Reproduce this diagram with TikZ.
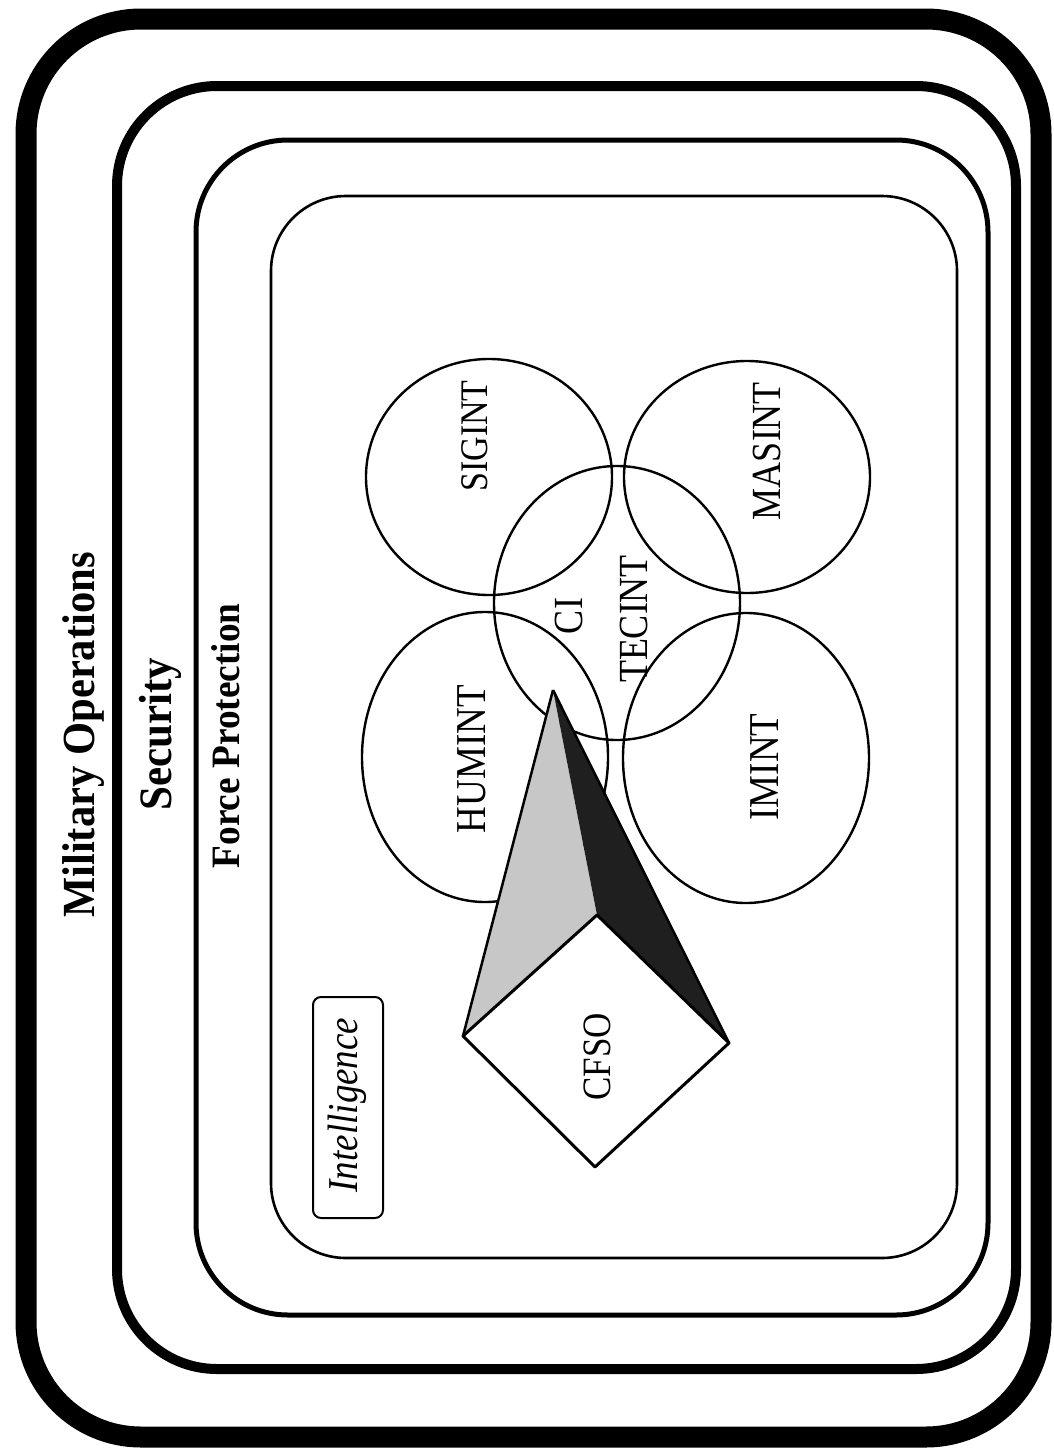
\documentclass[tikz,border=0pt]{standalone}
\usepackage{fontspec}
\setmainfont{Liberation Serif}
\usepackage{graphicx}
\usetikzlibrary{shapes.geometric}
\newcommand{\vst}[1]{\scalebox{1}[1.15]{#1}}
\newcommand{\vsf}[1]{\scalebox{1}[1.08]{#1}}
\begin{document}
\begin{tikzpicture}[x=1pt,y=-1pt,
  lbl/.style={rotate=90, inner sep=0pt, anchor=base},
  circ/.style={draw, ellipse, line width=2.4pt, inner sep=0pt, minimum width=246pt},
  reg/.style={font=\fontsize{36}{36}\selectfont}]
\useasboundingbox (0,0) rectangle (1053,1448);
\fill[white] (0,0) rectangle (1053,1448);

% nested frames
\draw[line width=21pt, rounded corners=115pt] (26,19) rectangle (1041,1437);
\draw[line width=10pt, rounded corners=100pt] (117,86) rectangle (1016,1369);
\draw[line width=5pt, rounded corners=92pt] (196,140) rectangle (988,1315);
\draw[line width=2.6pt, rounded corners=75pt] (271,196) rectangle (957,1258);

% frame labels
\node[lbl, font=\fontsize{42.6}{43}\selectfont\bfseries] (milops) at (94,735) {\vsf{Military Operations}};
\node[lbl, font=\fontsize{43}{43}\selectfont\bfseries] (sec) at (171,734) {\vsf{Security}};
\node[lbl, font=\fontsize{37.3}{37}\selectfont\bfseries] (fp) at (239,736) {\vsf{Force Protection}};

% circles
\node[circ, minimum height=236pt] (csig) at (489,477) {};
\node[circ, minimum height=232pt] (cmas) at (747,477) {};
\node[circ, minimum height=290pt] (chum) at (485,757) {};
\node[circ, minimum height=290pt] (cim) at (746,758) {};
\node[circ, minimum height=274pt] (cci) at (617,603) {};

\node[lbl, font=\fontsize{34}{34}\selectfont] (tsig) at (487,436) {\vst{SIGINT}};
\node[lbl, reg] (tmas) at (780,451) {\vst{MASINT}};
\node[lbl, font=\fontsize{37}{37}\selectfont] (thum) at (485,759) {\vst{HUMINT}};
\node[lbl, font=\fontsize{37}{37}\selectfont] (tim) at (778,767) {\vst{IMINT}};
\node[lbl, reg] (tci) at (582,616) {\vst{CI}};
\node[lbl, reg] (ttec) at (647,619) {\vst{TECINT}};

% pyramid and diamond
\coordinate (apex) at (553,690);
\coordinate (pl) at (463,1036);
\coordinate (pf) at (597,915);
\coordinate (pr) at (729,1043);
\coordinate (db) at (595,1167);
\fill[black!22] (apex) -- (pl) -- (pf) -- cycle;
\fill[black!88] (apex) -- (pf) -- (pr) -- cycle;
\draw[line width=2.5pt, line join=round] (apex) -- (pl);
\draw[line width=2.5pt, line join=round] (apex) -- (pr);
\draw[line width=3pt, line join=round, fill=white] (pf) -- (pl) -- (db) -- (pr) -- cycle;
\node[lbl, font=\fontsize{35}{35}\selectfont] (tcfso) at (610,1057) {\vst{CFSO}};

% intelligence box
\node[draw, line width=2pt, rounded corners=8pt, inner sep=0pt,
      minimum width=70pt, minimum height=221pt] (intbox) at (348,1107.5) {};
\node[lbl, font=\fontsize{37}{37}\selectfont\itshape] (tint) at (357,1105) {\vst{Intelligence}};
\end{tikzpicture}
\end{document}
